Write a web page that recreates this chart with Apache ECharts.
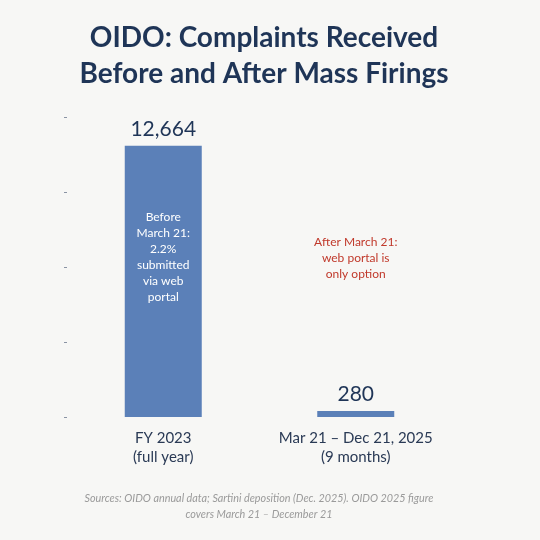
<!DOCTYPE html>
<html>
<head>
  <meta charset="utf-8">
  <title>OIDO complaints</title>
  <script src="https://cdn.jsdelivr.net/npm/echarts@6/dist/echarts.min.js"></script>
  <style>
    html, body { margin: 0; background: #f7f7f5; }
    #chart { width: 540px; height: 540px; }
  </style>
</head>
<body>
  <div id="chart"></div>
  <script>
    // data
    const periods = ['FY 2023\n(full year)', 'Mar 21 – Dec 21, 2025\n(9 months)'];
    const complaints = [12664, 280];
    const barNote = 'Before\nMarch 21:\n2.2%\nsubmitted\nvia web\nportal';
    const afterNote = 'After March 21:\nweb portal is\nonly option';
    const sourceNote = 'Sources: OIDO annual data; Sartini deposition (Dec. 2025). OIDO 2025 figure\ncovers March 21 – December 21';

    const font = 'Lato, "Noto Sans", sans-serif';
    const navy = '#1f3557';

    const chart = echarts.init(document.getElementById('chart'));
    chart.setOption({
      backgroundColor: '#f7f7f5',
      animation: false,
      title: {
        text: 'OIDO: Complaints Received\nBefore and After Mass Firings',
        left: 259,
        textAlign: 'center',
        top: 15,
        textStyle: {
          fontFamily: font, fontSize: 28, fontWeight: 'bold',
          color: navy, lineHeight: 36
        }
      },
      grid: { left: 67, right: 88, top: 117, bottom: 123 },
      xAxis: {
        type: 'category',
        data: periods,
        axisLine: { show: false },
        axisTick: { show: false },
        axisLabel: {
          interval: 0,
          fontFamily: font, fontSize: 15, color: '#2a3a55',
          lineHeight: 19, margin: 12
        }
      },
      yAxis: {
        type: 'value',
        min: 0, max: 14000, interval: 3500,
        axisLine: { show: false },
        axisTick: { show: true, length: 3, lineStyle: { color: '#8a93a3' } },
        axisLabel: { show: false },
        splitLine: { show: false }
      },
      series: [{
        type: 'bar',
        data: complaints,
        barWidth: 77,
        itemStyle: { color: '#5b80b8' },
        label: {
          show: true,
          position: 'top',
          distance: 6,
          fontFamily: font, fontSize: 21, color: navy,
          formatter: p => p.value.toLocaleString('en-US')
        }
      }]
    });

    // annotations placed from the axis scale
    const inBar = chart.convertToPixel({ seriesIndex: 0 }, [0, 7470]);
    const after = chart.convertToPixel({ seriesIndex: 0 }, [1, 7420]);
    chart.setOption({
      graphic: [
        {
          type: 'text', x: inBar[0], y: inBar[1], z: 100,
          style: {
            text: barNote, fill: '#ffffff', font: '12px ' + font,
            lineHeight: 16, align: 'center', verticalAlign: 'middle'
          }
        },
        {
          type: 'text', x: after[0], y: after[1], z: 100,
          style: {
            text: afterNote, fill: '#c0392b', font: '12px ' + font,
            lineHeight: 16, align: 'center', verticalAlign: 'middle'
          }
        },
        {
          type: 'text', x: 259, y: 507, z: 100,
          style: {
            text: sourceNote, fill: '#9a9a9a', font: 'italic 10.8px ' + font,
            lineHeight: 16, align: 'center', verticalAlign: 'middle'
          }
        }
      ]
    });
  </script>
</body>
</html>
